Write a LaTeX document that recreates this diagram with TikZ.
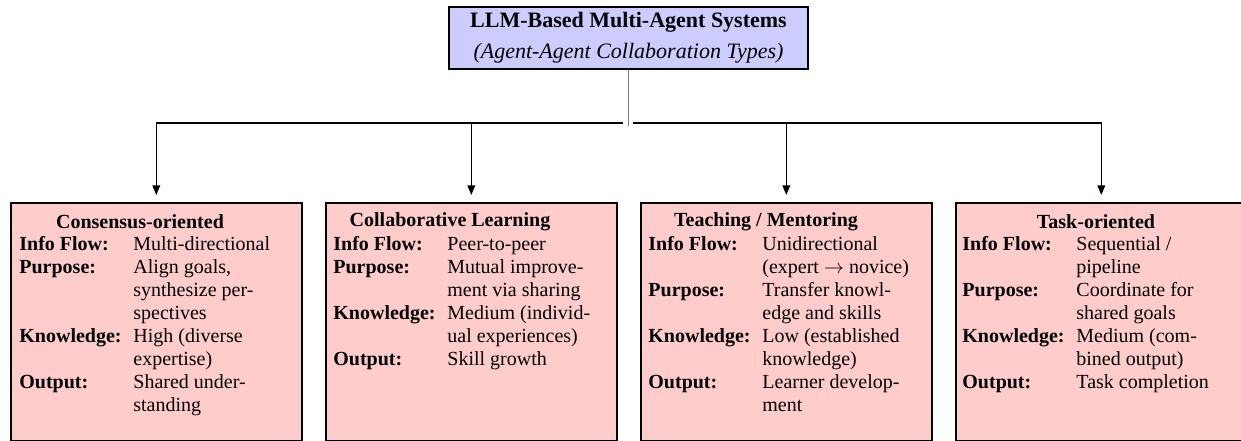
\documentclass[tikz,border=0pt]{standalone}
\usepackage{fontspec}
\setmainfont{Liberation Serif}
\usetikzlibrary{arrows.meta}
\definecolor{boxpink}{RGB}{255,204,204}
\definecolor{toplav}{RGB}{204,204,255}
\renewcommand{\arraystretch}{0.96}
\begin{document}
\begin{tikzpicture}[x=0.5pt,y=-0.5pt,
  catbox/.style={draw=black, line width=0.8pt, fill=boxpink, minimum width=145.5pt, minimum height=119pt, anchor=north west, inner sep=0pt},
  topbox/.style={draw=black, line width=0.8pt, fill=toplav, minimum width=179.5pt, minimum height=31pt, inner sep=0pt, align=center, font=\fontsize{11}{14}\selectfont},
  conn/.style={line width=0.75pt, -{Triangle[length=4.8pt,width=3.8pt]}, shorten >=3.5pt},
  stemline/.style={draw=gray, line width=0.6pt},
  cattitle/.style={font=\bfseries, inner sep=0pt},
  cattab/.style={anchor=north west, inner sep=0pt}
]
\useasboundingbox (0,0) rectangle (1241,440);
\clip (0,0) rectangle (1241,440);

\node[topbox] (root) at (628.5,38) {\textbf{LLM-Based Multi-Agent Systems}\\[1.5pt]\textit{(Agent-Agent Collaboration Types)}};

\node[catbox] (c1) at (10,202) {};
\node[catbox] (c2) at (325,202) {};
\node[catbox] (c3) at (640,202) {};
\node[catbox] (c4) at (955,202) {};

\coordinate (stem) at (628.5,126);
\coordinate (jl) at (623,123);
\coordinate (jr) at (633,123);
\draw[stemline] (root.south) -- (stem);
\draw[conn] (jl) -| (c1.north);
\draw[conn] (jl) -| (c2.north);
\draw[conn] (jr) -| (c3.north);
\draw[conn] (jr) -| (c4.north);

\node[cattitle] (t1) at (140,222) {Consensus-oriented};
\node[cattitle] (t2) at (450,222) {Collaborative Learning};
\node[cattitle] (t3) at (766,222) {Teaching / Mentoring};
\node[cattitle] (t4) at (1096,222) {Task-oriented};

\node[cattab] (b1) at (19,234) {\begin{tabular}{@{}p{57pt}@{}l@{}}
\textbf{Info Flow:} & Multi-directional \\
\textbf{Purpose:} & Align goals, \\
 & synthesize per- \\
 & spectives \\
\textbf{Knowledge:} & High (diverse \\
 & expertise) \\
\textbf{Output:} & Shared under- \\
 & standing
\end{tabular}};

\node[cattab] (b2) at (333,234) {\begin{tabular}{@{}p{57pt}@{}l@{}}
\textbf{Info Flow:} & Peer-to-peer \\
\textbf{Purpose:} & Mutual improve- \\
 & ment via sharing \\
\textbf{Knowledge:} & Medium (individ- \\
 & ual experiences) \\
\textbf{Output:} & Skill growth
\end{tabular}};

\node[cattab] (b3) at (648,234) {\begin{tabular}{@{}p{57pt}@{}l@{}}
\textbf{Info Flow:} & Unidirectional \\
 & (expert $\rightarrow$ novice) \\
\textbf{Purpose:} & Transfer knowl- \\
 & edge and skills \\
\textbf{Knowledge:} & Low (established \\
 & knowledge) \\
\textbf{Output:} & Learner develop- \\
 & ment
\end{tabular}};

\node[cattab] (b4) at (962,234) {\begin{tabular}{@{}p{57pt}@{}l@{}}
\textbf{Info Flow:} & Sequential / \\
 & pipeline \\
\textbf{Purpose:} & Coordinate for \\
 & shared goals \\
\textbf{Knowledge:} & Medium (com- \\
 & bined output) \\
\textbf{Output:} & Task completion
\end{tabular}};
\end{tikzpicture}
\end{document}
